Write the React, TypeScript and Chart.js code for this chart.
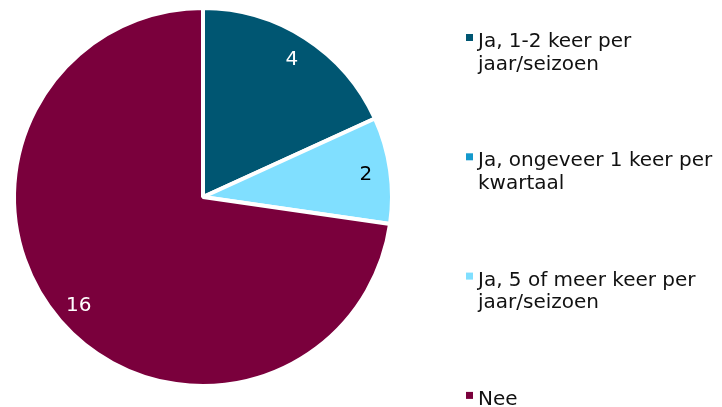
import React, { useEffect, useRef } from "react";
import { Chart, registerables } from "chart.js";

Chart.register(...registerables);

const categories: string[][] = [
  ["Ja, 1-2 keer per", "jaar/seizoen"],
  ["Ja, ongeveer 1 keer per", "kwartaal"],
  ["Ja, 5 of meer keer per", "jaar/seizoen"],
  ["Nee"],
];
const values: number[] = [4, 0, 2, 16];
const colors: string[] = ["#005672", "#1499cc", "#80dfff", "#7a003c"];
const valueLabelColors: string[] = ["#ffffff", "#ffffff", "#000000", "#ffffff"];

const FONT = "'DejaVu Sans', Verdana, sans-serif";

const valueLabelPlugin = {
  id: "valueLabels",
  afterDatasetsDraw(chart: any) {
    const ctx = chart.ctx;
    const meta = chart.getDatasetMeta(0);
    ctx.save();
    ctx.font = `20px ${FONT}`;
    ctx.textAlign = "center";
    ctx.textBaseline = "middle";
    meta.data.forEach((arc: any, i: number) => {
      const v = values[i];
      if (!v) return;
      const p = arc.getProps(["startAngle", "endAngle", "outerRadius", "x", "y"], true);
      const mid = (p.startAngle + p.endAngle) / 2;
      const r = p.outerRadius * 0.87;
      ctx.fillStyle = valueLabelColors[i];
      ctx.fillText(String(v), p.x + Math.cos(mid) * r, p.y + Math.sin(mid) * r + 1);
    });
    ctx.restore();
  },
};

const legendPlugin = {
  id: "sideLegend",
  afterDraw(chart: any) {
    const ctx = chart.ctx;
    ctx.save();
    ctx.font = `20px ${FONT}`;
    ctx.textAlign = "left";
    ctx.textBaseline = "alphabetic";
    categories.forEach((lines, i) => {
      const base = 47 + i * 119.3;
      ctx.fillStyle = colors[i];
      ctx.fillRect(466, base - 13, 7, 7);
      ctx.fillStyle = "#111111";
      lines.forEach((line, j) => {
        ctx.fillText(line, 478, base + j * 22.6);
      });
    });
    ctx.restore();
  },
};

export default function App() {
  const ref = useRef<HTMLCanvasElement | null>(null);
  useEffect(() => {
    if (!ref.current) return;
    const chart = new Chart(ref.current, {
      type: "pie",
      data: {
        labels: categories.map((l) => l.join(" ")),
        datasets: [
          {
            data: values,
            backgroundColor: colors,
            borderColor: "#ffffff",
            borderWidth: 4,
          },
        ],
      },
      options: {
        responsive: false,
        animation: false,
        layout: { padding: { left: 12, top: 6, right: 328, bottom: 19 } },
        plugins: {
          legend: { display: false },
          tooltip: { enabled: false },
        },
      },
      plugins: [valueLabelPlugin, legendPlugin],
    });
    return () => chart.destroy();
  }, []);
  return (
    <div style={{ position: "fixed", left: 0, top: 0, width: 722, height: 407, background: "#fff" }}>
      <canvas ref={ref} width={722} height={407} style={{ width: 722, height: 407, display: "block" }} />
    </div>
  );
}
